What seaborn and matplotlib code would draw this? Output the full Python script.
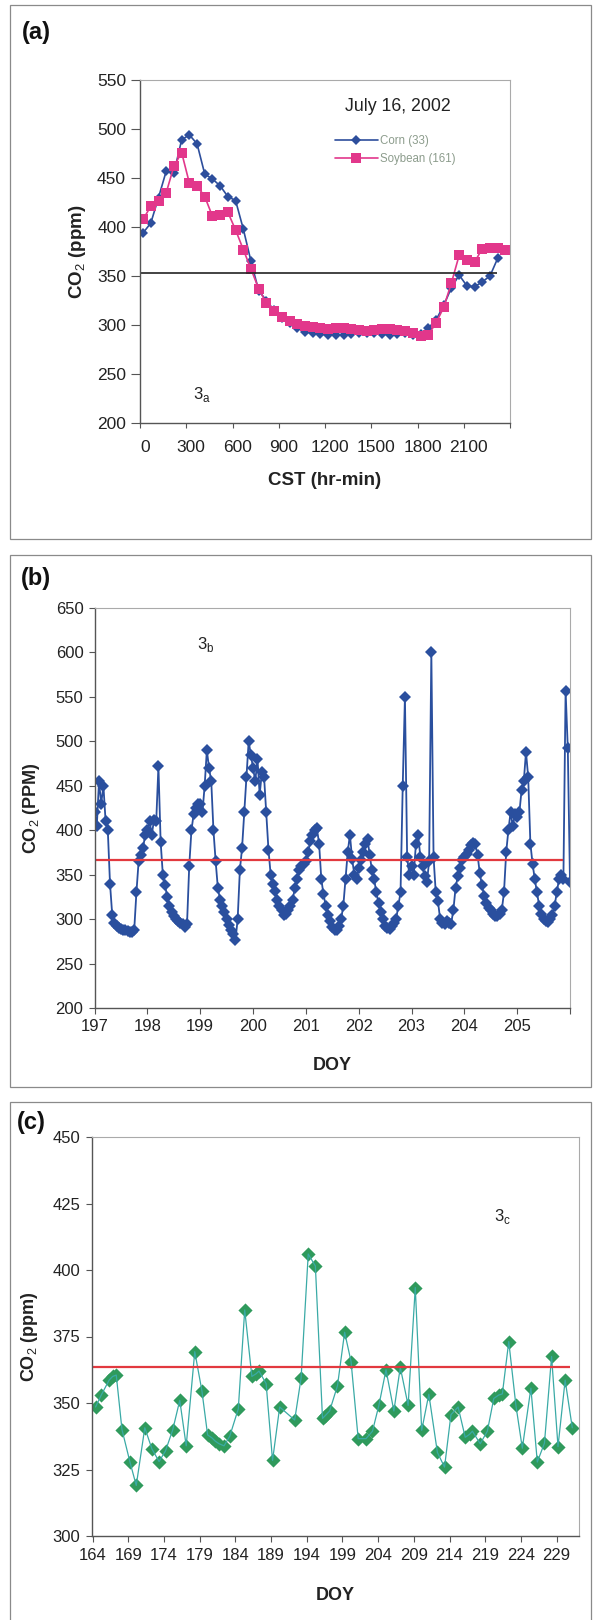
import numpy as np
import matplotlib
matplotlib.use("Agg")
import matplotlib.pyplot as plt
import matplotlib.transforms as mtransforms
import seaborn as sns
from matplotlib.patches import Rectangle

# ---------------------------------------
# Data (a): July 16, 2002, half-hour readings
# ---------------------------------------
corn_a = [394, 404, 430, 457, 455, 489, 494, 485, 454, 449, 442, 431, 427, 398, 365,
          335, 325, 315, 307, 302, 297, 293, 292, 291, 290, 290, 290, 291, 292, 292,
          292, 291, 290, 291, 292, 290, 291, 297, 305, 320, 338, 351, 340, 339, 344,
          350, 368]
soy_a = [408, 421, 427, 435, 462, 476, 445, 442, 431, 411, 412, 415, 397, 377, 357,
         337, 322, 314, 308, 304, 301, 299, 298, 297, 296, 297, 297, 296, 295, 294,
         295, 296, 296, 295, 294, 292, 289, 290, 302, 318, 343, 371, 366, 364, 378,
         379, 379, 377]
ref_a = 353
ref_a_end = 2315

# ---------------------------------------
# Data (b): hourly readings, DOY 197-205
# ---------------------------------------
b197 = [420, 405, 455, 430, 450, 410, 400, 340, 305, 296, 292, 290, 289, 288, 288, 287,
        286, 285, 288, 330, 365, 372, 380, 395]
b198 = [400, 410, 395, 412, 410, 472, 387, 350, 338, 325, 315, 308, 303, 300, 298, 296,
        294, 291, 295, 360, 400, 418, 425, 430]
b199 = [430, 420, 450, 490, 470, 455, 400, 365, 335, 322, 315, 308, 300, 293, 288, 283,
        276, 300, 355, 380, 420, 460, 500, 485]
b200 = [470, 455, 480, 440, 465, 460, 420, 378, 350, 340, 332, 322, 315, 310, 305, 306,
        310, 315, 322, 335, 345, 355, 360, 362]
b201 = [365, 375, 388, 395, 400, 402, 385, 345, 328, 315, 305, 298, 291, 288, 288, 292,
        300, 315, 345, 375, 395, 368, 350, 345]
b202 = [358, 366, 375, 385, 390, 372, 355, 345, 330, 318, 308, 300, 292, 290, 289, 292,
        296, 300, 315, 330, 450, 550, 370, 350]
b203 = [360, 350, 385, 395, 370, 360, 348, 342, 365, 600, 370, 330, 320, 300, 296, 294,
        298, 296, 295, 310, 335, 348, 358, 366]
b204 = [370, 373, 378, 383, 386, 384, 372, 352, 338, 326, 318, 313, 310, 306, 304, 303,
        306, 310, 330, 375, 400, 420, 405, 418]
b205 = [415, 420, 445, 455, 488, 460, 385, 362, 345, 330, 315, 306, 300, 298, 297, 300,
        305, 315, 330, 345, 350, 345, 557, 492, 342]
days_b = [197, 198, 199, 200, 201, 202, 203, 204, 205]
ref_b = 366
ref_b_end = 205.86

# ---------------------------------------
# Data (c): DOY 164-231
# ---------------------------------------
doy_c = [164.4, 165.2, 166.3, 166.8, 167.3, 168.1, 169.2, 170.1, 171.3, 172.3,
         173.3, 174.2, 175.2, 176.2, 177.1, 178.3, 179.3, 180.1, 180.7, 181.2,
         181.7, 182.4, 183.2, 184.4, 185.3, 186.3, 186.9, 187.3, 188.3, 189.2,
         190.2, 192.3, 193.2, 194.2, 195.2, 196.2, 196.6, 197.2, 198.3, 199.3,
         200.2, 201.2, 202.3, 203.2, 204.1, 205.1, 206.2, 207.1, 208.2, 209.2,
         210.1, 211.1, 212.3, 213.3, 214.2, 215.2, 216.2, 216.8, 217.2, 218.3,
         219.3, 220.2, 220.9, 221.4, 222.3, 223.3, 224.2, 225.4, 226.3, 227.3,
         228.3, 229.2, 230.2, 231.2]
co2_c = [348.5, 353, 358.6, 360, 360.5, 340, 328, 319, 340.7, 332.7,
         328, 332, 339.8, 351, 333.9, 369.3, 354.6, 338, 336.9, 335.6,
         334.7, 333.9, 337.5, 347.8, 385, 360, 361, 362, 357.3, 328.4,
         348.5, 343.6, 359.4, 406, 401.5, 344.2, 345.3, 347, 356.5, 376.6,
         365.6, 336.6, 336.6, 339.4, 349.1, 362.5, 347, 363.4, 349.1, 393.4,
         339.7, 353.3, 331.4, 325.9, 345.6, 348.5, 337.1, 338.2, 339.4, 334.7,
         339.4, 351.7, 353, 353.4, 373.1, 349.1, 333, 355.6, 327.8, 334.9,
         367.5, 333.6, 358.6, 340.7]
ref_c = 363.5
ref_c_end = 230.9

# sample times
cst_corn = 20 + 50 * np.arange(len(corn_a))
cst_soy = 20 + 50 * np.arange(len(soy_a))
b_lists = [b197, b198, b199, b200, b201, b202, b203, b204, b205]
doy_b = np.concatenate([d + np.arange(len(v)) / 24 for d, v in zip(days_b, b_lists)])
co2_b = np.concatenate(b_lists)

# ---------------------------------------
# Style
# ---------------------------------------
sns.set_theme(style="white")
plt.rcParams['font.family'] = ['Liberation Sans', 'DejaVu Sans']
plt.rcParams['mathtext.fontset'] = 'custom'
plt.rcParams['mathtext.rm'] = 'Liberation Sans'
plt.rcParams['mathtext.bf'] = 'Liberation Sans:bold'

corn_col = "#2d4e9c"
soy_col = "#e2378b"
blue_b = "#2a4f9e"
red_col = "#e2393f"
green_m = "#2f9a5c"
green_l = "#3aaaa6"
txt = "#222222"

fig = plt.figure(figsize=(5.93, 16.2), dpi=100)

# panel frames
for (y0, h) in [(1 - 539 / 1620, 534 / 1620), (1 - 1087 / 1620, 532 / 1620),
                (-0.01, 1 - 1102 / 1620 + 0.01)]:
    fig.add_artist(Rectangle((10 / 593, y0), 581 / 593, h, transform=fig.transFigure,
                             fill=False, ec="#8a8a8a", lw=0.9))

ax_a = fig.add_axes([140 / 593, 1 - 423 / 1620, 370 / 593, 343 / 1620])
ax_b = fig.add_axes([94.6 / 593, 1 - 1008 / 1620, 475.4 / 593, 400 / 1620])
ax_c = fig.add_axes([92 / 593, 1 - 1536 / 1620, 486.7 / 593, 399 / 1620])


def style_axes(ax):
    for s in ["left", "bottom"]:
        ax.spines[s].set_color("#555555")
        ax.spines[s].set_linewidth(1.0)
    for s in ["top", "right"]:
        ax.spines[s].set_color("#aaaaaa")
        ax.spines[s].set_linewidth(0.8)
    ax.tick_params(axis="both", direction="out", length=4, width=0.8, color="#555555",
                   left=True, bottom=True, labelcolor=txt)
    ax.grid(False)


# ---------------------------------------
# (a)
# ---------------------------------------
sns.lineplot(x=cst_corn, y=corn_a, ax=ax_a, color=corn_col, lw=1.2, marker="D",
             markersize=5.3, markeredgewidth=0, label="Corn (33)",
             estimator=None, sort=False)
sns.lineplot(x=cst_soy, y=soy_a, ax=ax_a, color=soy_col, lw=1.2, marker="s",
             markersize=7.8, markeredgewidth=0, label="Soybean (161)",
             estimator=None, sort=False)
ax_a.hlines(ref_a, 0, ref_a_end, color="#222222", lw=1.2)
ax_a.set_xlim(0, 2400)
ax_a.set_ylim(200, 550)
ax_a.set_xticks(np.arange(0, 2401, 300))
ax_a.set_xticklabels([str(v) for v in range(0, 2101, 300)] + [""])
ax_a.set_yticks(np.arange(200, 551, 50))
style_axes(ax_a)
ax_a.tick_params(axis="x", labelsize=12.5, pad=9, length=3.6)
ax_a.tick_params(axis="y", labelsize=12.5, pad=3.5, length=6.5)
shift = mtransforms.ScaledTranslation(5 / 100, 0, fig.dpi_scale_trans)
for lab in ax_a.get_xticklabels():
    lab.set_transform(lab.get_transform() + shift)
ax_a.set_xlabel("CST (hr-min)", fontsize=13.5, fontweight="bold", va="center", color=txt)
ax_a.set_ylabel(r"CO$_2$ (ppm)", fontsize=13.5, fontweight="bold", va="center", color=txt)
ax_a.xaxis.set_label_coords(0.5, -0.169)
ax_a.yaxis.set_label_coords(-0.169, 0.5)
ax_a.text(1673, 522.5, "July 16, 2002", ha="center", va="center", fontsize=12.8, color=txt)
ax_a.text(344, 228.6, r"3$_\mathrm{a}$", ha="left", va="center", fontsize=12, color=txt)
ax_a.legend(loc="upper left", bbox_to_anchor=(0.527, 0.84), frameon=False, fontsize=8.3,
            handlelength=3.7, handletextpad=0.2, labelspacing=0.5, borderpad=0,
            borderaxespad=0, labelcolor="#8c9c8c")

# ---------------------------------------
# (b)
# ---------------------------------------
sns.lineplot(x=doy_b, y=co2_b, ax=ax_b, color=blue_b, lw=1.3, marker="D",
             markersize=6.4, markeredgewidth=0, estimator=None, sort=False)
ax_b.hlines(ref_b, 197, ref_b_end, color=red_col, lw=1.6)
ax_b.set_xlim(197, 206)
ax_b.set_ylim(200, 650)
ax_b.set_xticks(np.arange(197, 207))
ax_b.set_xticklabels([str(v) for v in range(197, 206)] + [""])
ax_b.set_yticks(np.arange(200, 651, 50))
style_axes(ax_b)
ax_b.tick_params(axis="both", labelsize=12, pad=4)
ax_b.set_xlabel("DOY", fontsize=13, fontweight="bold", va="center", color=txt)
ax_b.set_ylabel(r"CO$_2$ (PPM)", fontsize=13, fontweight="bold", va="center", color=txt)
ax_b.xaxis.set_label_coords(0.5, -0.1425)
ax_b.yaxis.set_label_coords(-0.1317, 0.5)
ax_b.text(198.94, 609.5, r"3$_\mathrm{b}$", ha="left", va="center", fontsize=12, color=txt)

# ---------------------------------------
# (c)
# ---------------------------------------
sns.lineplot(x=doy_c, y=co2_c, ax=ax_c, color=green_l, lw=0.9, estimator=None, sort=False)
sns.scatterplot(x=doy_c, y=co2_c, ax=ax_c, color=green_m, marker="D", s=52, linewidth=0)
ax_c.hlines(ref_c, 164, ref_c_end, color=red_col, lw=1.6)
ax_c.set_xlim(163.9, 232.1)
ax_c.set_ylim(300, 450)
ax_c.set_xticks(np.arange(164, 230, 5))
ax_c.set_yticks(np.arange(300, 451, 25))
style_axes(ax_c)
ax_c.tick_params(axis="both", labelsize=12, pad=4.5)
ax_c.set_xlabel("DOY", fontsize=13, fontweight="bold", va="center", color=txt)
ax_c.set_ylabel(r"CO$_2$ (ppm)", fontsize=13, fontweight="bold", va="center", color=txt)
ax_c.xaxis.set_label_coords(0.5, -0.148)
ax_c.yaxis.set_label_coords(-0.1274, 0.5)
ax_c.text(220.3, 420.3, r"3$_\mathrm{c}$", ha="left", va="center", fontsize=12, color=txt)

# panel letters
fig.text(36.5 / 593, 1 - 32 / 1620, "(a)", ha="center", va="center", fontsize=17,
         fontweight="bold", color="#111111")
fig.text(36 / 593, 1 - 579 / 1620, "(b)", ha="center", va="center", fontsize=17,
         fontweight="bold", color="#111111")
fig.text(31 / 593, 1 - 1122.5 / 1620, "(c)", ha="center", va="center", fontsize=17,
         fontweight="bold", color="#111111")

fig.savefig("out.png", dpi=100, facecolor="white")
